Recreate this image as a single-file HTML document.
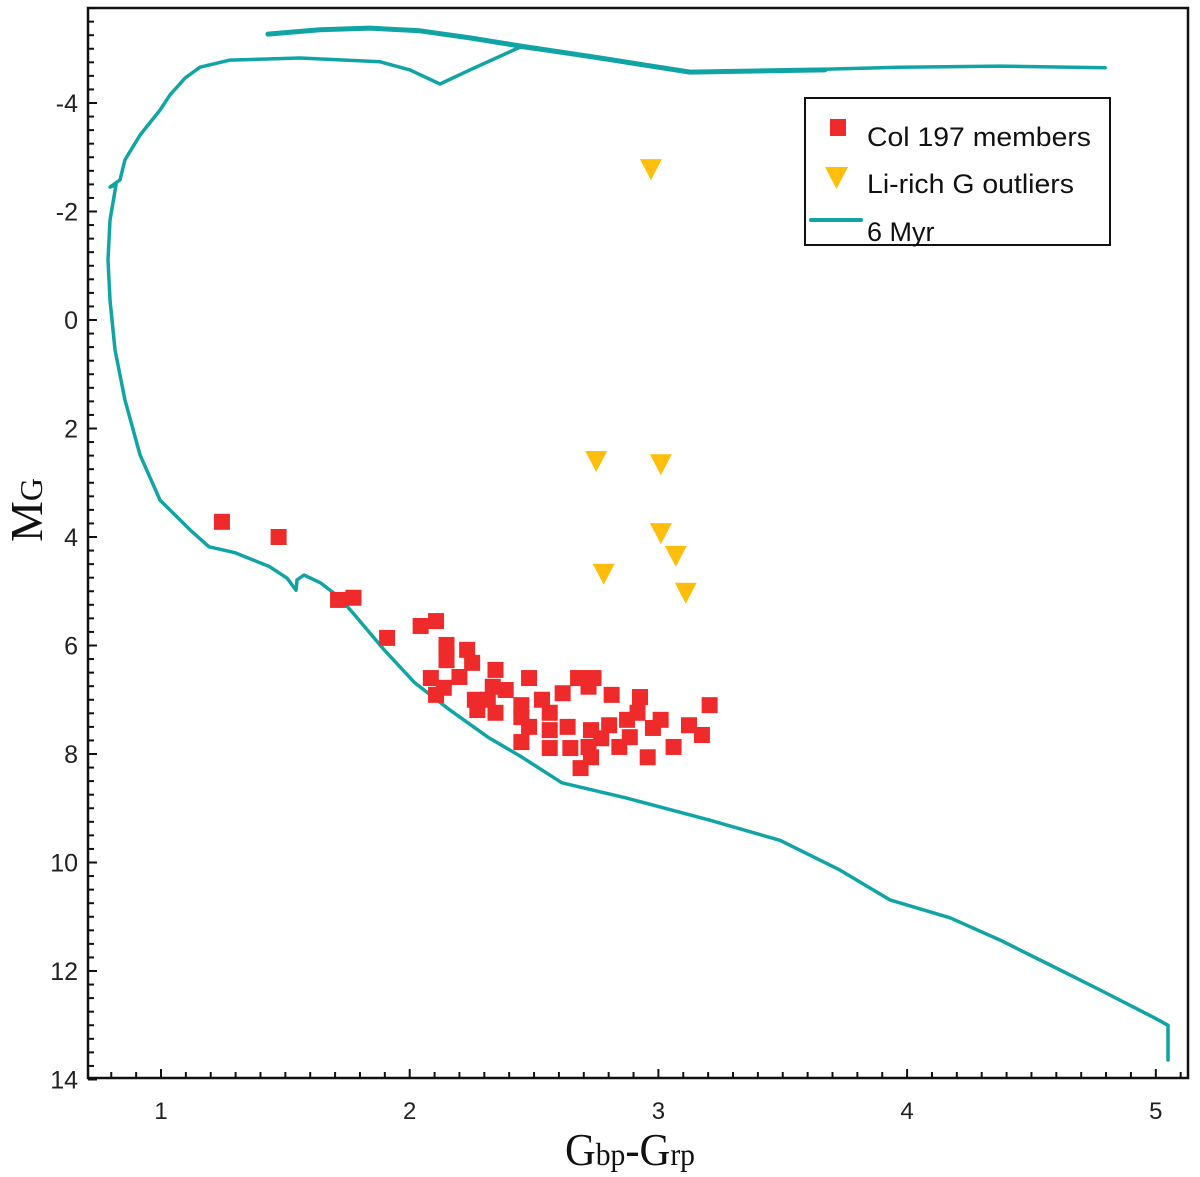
<!DOCTYPE html>
<html><head><meta charset="utf-8"><style>
html,body{margin:0;padding:0;background:#fff;}
svg{display:block;}
text{font-family:"Liberation Sans",sans-serif;}
text.serif{font-family:"Liberation Serif",serif;}
</style></head><body>
<svg id="chart" width="1200" height="1177" xmlns="http://www.w3.org/2000/svg">
</svg>
<script>
// ---- data ----
const memberColor = [1.245,1.473,1.712,1.774,1.909,2.044,2.106,2.148,2.231,2.148,2.251,2.20,2.085,2.137,2.106,2.345,2.334,2.386,2.262,2.314,2.272,2.345,2.48,2.449,2.532,2.615,2.677,2.739,2.719,2.812,2.449,2.563,2.48,2.563,2.635,2.729,2.802,2.874,2.926,2.916,3.009,2.978,3.206,3.123,3.175,2.449,2.563,2.646,2.719,2.729,2.687,2.843,2.957,3.061,2.885,2.77];
const memberMag = [3.72,4.00,5.16,5.12,5.86,5.64,5.55,5.99,6.08,6.27,6.32,6.58,6.60,6.78,6.91,6.45,6.76,6.82,7.00,7.00,7.19,7.24,6.60,7.10,7.00,6.88,6.60,6.60,6.76,6.91,7.32,7.24,7.50,7.56,7.50,7.56,7.47,7.37,6.95,7.24,7.37,7.52,7.10,7.47,7.65,7.78,7.89,7.89,7.87,8.06,8.26,7.87,8.06,7.87,7.69,7.71];
const outlierColor = [2.97,2.75,3.01,3.01,3.07,2.78,3.11];
const outlierMag = [-2.80,2.58,2.64,3.91,4.33,4.66,5.01];
const isoColorA = [5.049,5.049,4.997,4.776,4.575,4.374,4.173,3.931,3.730,3.489,3.207,2.870,2.612,2.452,2.315,2.162,2.021,1.897,1.772,1.716,1.643,1.575,1.547,1.543,1.507,1.438,1.298,1.193,1.117,0.996,0.916,0.855,0.815,0.795,0.787,0.795,0.819,0.795,0.835,0.855,0.916,0.996,1.036,1.097,1.157,1.277,1.559,1.881,2.001,2.122,2.242,2.444,2.685,2.926,3.127,3.569,3.971,4.374,4.796];
const isoMagA = [13.64,13.00,12.87,12.35,11.89,11.43,11.02,10.69,10.14,9.59,9.22,8.81,8.53,8.06,7.69,7.19,6.69,6.08,5.40,5.11,4.85,4.70,4.79,4.98,4.76,4.55,4.29,4.18,3.87,3.32,2.49,1.47,0.55,-0.37,-1.11,-1.84,-2.49,-2.45,-2.58,-2.95,-3.41,-3.87,-4.15,-4.46,-4.66,-4.79,-4.83,-4.76,-4.61,-4.35,-4.61,-5.03,-4.88,-4.70,-4.57,-4.61,-4.66,-4.68,-4.65];
const isoColorB = [1.430,1.639,1.840,2.041,2.242,2.444,2.765,3.127,3.670];
const isoMagB = [-5.27,-5.35,-5.38,-5.33,-5.20,-5.05,-4.83,-4.57,-4.61];
const xTicks = [1,2,3,4,5];
const yTicks = [-4,-2,0,2,4,6,8,10,12,14];

// ---- axes ----
const L=88,R=1188,T=8,B=1078;
const X=v=>161+(v-1)*248.7;
const Y=v=>320+v*54.25;
const svg=document.getElementById('chart');
const NS='http://www.w3.org/2000/svg';
function mk(tag,attrs,parent){const e=document.createElementNS(NS,tag);for(const k in attrs)e.setAttribute(k,attrs[k]);(parent||svg).appendChild(e);return e;}

const frame=mk('rect',{x:L,y:T,width:R-L,height:B-T,fill:'none',stroke:'#111','stroke-width':2.5});



for(let i=8;i<=51;i++){const v=i/10;const px=X(v);const major=(i%10===0);
 const t=mk('line',{x1:px,x2:px,y1:B,y2:B-(major?9:6),stroke:'#111','stroke-width':2});
 
 }
xTicks.forEach(v=>{const t=mk('text',{x:X(v),y:1119,'font-size':24,'text-anchor':'middle',fill:'#222'});t.textContent=v;
 
 });
for(let i=-23;i<=56;i++){const v=i/4;const py=Y(v);const major=(i%8===0);
 const t=mk('line',{x1:L,x2:L+(major?9:6),y1:py,y2:py,stroke:'#111','stroke-width':2});
 
 }
yTicks.forEach(v=>{const t=mk('text',{x:78,y:Y(v)+9,'font-size':25,'text-anchor':'end',fill:'#222'});t.textContent=v;
 
 });

function poly(xs,ys,name,w){const p=xs.map((x,i)=>X(x).toFixed(1)+','+Y(ys[i]).toFixed(1)).join(' ');
 const e=mk('polyline',{points:p,fill:'none',stroke:'#11a4a4','stroke-width':w,'stroke-linejoin':'round','stroke-linecap':'round'});
 
 }
poly(isoColorA,isoMagA,'isochrone-6myr',3.5);
poly(isoColorB,isoMagB,'isochrone-6myr-upper-branch',5);

memberColor.forEach((c,i)=>{const e=mk('rect',{x:X(c)-8,y:Y(memberMag[i])-8,width:16,height:16,fill:'#ee2a2a'});
 
 });
outlierColor.forEach((c,i)=>{const x=X(c),y=Y(outlierMag[i]);
 const e=mk('polygon',{points:`${x-11},${y-9} ${x+11},${y-9} ${x},${y+12}`,fill:'#ffbe0b'});
 
 });

const lg=mk('g',{});


mk('rect',{x:805,y:98,width:305,height:147,fill:'#fff',stroke:'#111','stroke-width':2},lg);
const s1=mk('rect',{x:830,y:119,width:16,height:17,fill:'#ee2a2a'},lg);


const t1=mk('text',{x:867,y:146,'font-size':27,fill:'#111',textLength:224,lengthAdjust:'spacingAndGlyphs'},lg);t1.textContent='Col 197 members';


const s2=mk('polygon',{points:'825,167 848,167 836.5,189',fill:'#ffbe0b'},lg);


const t2=mk('text',{x:867,y:193,'font-size':27,fill:'#111',textLength:207,lengthAdjust:'spacingAndGlyphs'},lg);t2.textContent='Li-rich G outliers';


const s3=mk('line',{x1:811,x2:861,y1:220,y2:220,stroke:'#11a4a4','stroke-width':4,'stroke-linecap':'round'},lg);


const t3=mk('text',{x:867,y:241,'font-size':27,fill:'#111'},lg);t3.textContent='6 Myr';



const yt=mk('text',{x:0,y:0,'font-size':46,fill:'#111','class':'serif','text-anchor':'middle',transform:'translate(42,510) rotate(-90)'});


yt.innerHTML='M<tspan font-size="32">G</tspan>';
const xt=mk('text',{x:565,y:1165,'font-size':46,fill:'#111','class':'serif',textLength:130,lengthAdjust:'spacingAndGlyphs'});


xt.innerHTML='G<tspan font-size="32">bp</tspan>-G<tspan font-size="32">rp</tspan>';
</script>
</body></html>
